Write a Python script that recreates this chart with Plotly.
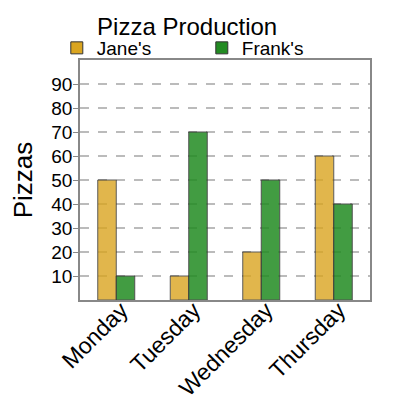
import plotly.graph_objects as go

days = ["Monday", "Tuesday", "Wednesday", "Thursday"]
janes = [50, 10, 20, 60]
franks = [10, 70, 50, 40]

fig = go.Figure()
fig.add_trace(go.Bar(x=days, y=janes, name="Jane's", marker=dict(color="#DAA520", opacity=0.8,
                                                                   line=dict(color="#333333", width=1))))
fig.add_trace(go.Bar(x=days, y=franks, name="Frank's", marker=dict(color="#228B22", opacity=0.85,
                                                                    line=dict(color="#333333", width=1))))

# page is drawn with an 8px body margin, so the figure is laid out 8px up/left
fig.update_layout(
    width=392, height=392,
    margin=dict(l=72, r=30, t=52, b=100, autoexpand=False),
    paper_bgcolor="white", plot_bgcolor="white",
    font=dict(family="Liberation Sans, Arial", color="black"),
    title=dict(text="Pizza Production", x=0.457, xanchor="center", y=0.952, yanchor="middle",
               font=dict(size=24)),
    barmode="group", bargap=0.49, bargroupgap=0,
    legend=dict(orientation="h", x=-0.08, xanchor="left", y=1.05, yanchor="middle",
                font=dict(size=19), entrywidth=100, itemwidth=30,
                bgcolor="rgba(0,0,0,0)"),
    xaxis=dict(tickangle=-45, tickfont=dict(size=23), showline=True, linecolor="#888888",
               mirror=True, ticks="", linewidth=1.5, automargin=False,
               ticklabelstandoff=-14, ticklabelshift=5),
    yaxis=dict(range=[0, 100], tickvals=[10, 20, 30, 40, 50, 60, 70, 80, 90], tickfont=dict(size=19),
               title=dict(text="Pizzas", font=dict(size=26), standoff=19),
               showgrid=True, gridcolor="#bbbbbb", griddash="dash", gridwidth=1.5,
               showline=True, linecolor="#888888", mirror=True, linewidth=1.5,
               ticks="outside", ticklen=5, tickcolor="#888888", zeroline=False, automargin=False,
               ticklabelstandoff=-3),
)

fig.write_html("out.html")
